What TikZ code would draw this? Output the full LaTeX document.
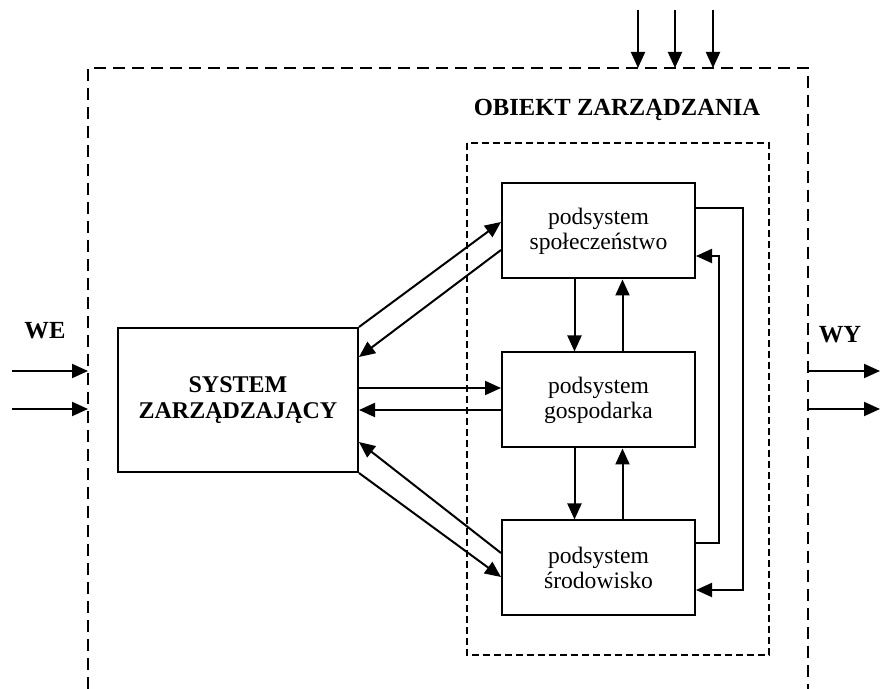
\documentclass[tikz,border=0pt]{standalone}
\usepackage{fontspec}
\setmainfont{Liberation Serif}
\usetikzlibrary{arrows.meta}

\tikzset{
    box/.style={draw, line width=1pt, align=center, inner sep=0pt},
    subbox/.style={box, minimum width=96.5pt, minimum height=47.5pt,
        font=\fontsize{11.8}{12.5}\selectfont},
    mainbox/.style={box, minimum width=120pt, minimum height=72pt,
        font=\fontsize{12}{13}\selectfont\bfseries},
    arr/.style={line width=1pt, -{Triangle[length=8pt, width=7pt]}},
    outerframe/.style={line width=1pt, dash pattern=on 6pt off 3.5pt},
    innerframe/.style={line width=0.8pt, dash pattern=on 3.5pt off 2pt},
    lbl/.style={font=\fontsize{12.3}{13}\selectfont\bfseries}
}

\begin{document}
\begin{tikzpicture}[x=0.5pt, y=-0.5pt]
    \useasboundingbox (0, 0) rectangle (880, 689);

    % frames
    \coordinate (ftl) at (88, 68);
    \coordinate (ftr) at (808, 68);
    \draw[outerframe] (88, 689) -- (ftl) -- (ftr) -- (808, 689);
    \draw[innerframe] (467, 143) rectangle (769, 655);
    \node[lbl] (obiekt) at (617, 110) {OBIEKT ZARZĄDZANIA};

    % blocks
    \node[mainbox] (sys) at (238, 400) {SYSTEM\\ZARZĄDZAJĄCY};
    \node[subbox] (spol) at (598.5, 231) {podsystem\\społeczeństwo};
    \node[subbox] (gosp) at (598.5, 400) {podsystem\\gospodarka};
    \node[subbox] (srod) at (598.5, 568) {podsystem\\środowisko};

    % system <-> subsystems
    \draw[arr] (sys.north east) -- ([yshift=4.5pt]spol.west);
    \draw[arr] ([yshift=-9.5pt]spol.west) -- ([yshift=21.5pt]sys.east);
    \draw[arr] ([yshift=6pt]sys.east) -- ([yshift=6pt]gosp.west);
    \draw[arr] ([yshift=-5pt]gosp.west) -- ([yshift=-5pt]sys.east);
    \draw[arr] ([yshift=7.5pt]srod.west) -- ([yshift=-21pt]sys.east);
    \draw[arr] (sys.south east) -- ([yshift=-4.5pt]srod.west);

    % between subsystems
    \draw[arr] ([xshift=-12pt]spol.south) -- ([xshift=-12pt]gosp.north);
    \draw[arr] ([xshift=12pt]gosp.north) -- ([xshift=12pt]spol.south);
    \draw[arr] ([xshift=-12pt]gosp.south) -- ([xshift=-12pt]srod.north);
    \draw[arr] ([xshift=12pt]srod.north) -- ([xshift=12pt]gosp.south);

    % feedback loops
    \draw[arr] ([yshift=11.5pt]spol.east) -- ++(23.5pt, 0) |- ([yshift=-11pt]srod.east);
    \draw[arr] ([yshift=12.5pt]srod.east) -- ++(11.5pt, 0) |- ([yshift=-12.5pt]spol.east);

    % disturbances
    \foreach \x [count=\i] in {638, 675, 713} {
        \coordinate (z\i) at (\x, 10);
        \draw[arr] (z\i) -- (z\i |- ftl);
    }

    % inputs and outputs
    \node[lbl] (we) at (45, 331) {WE};
    \node[lbl] (wy) at (840, 335) {WY};
    \foreach \y [count=\i] in {371, 409} {
        \coordinate (we\i) at (12, \y);
        \draw[arr] (we\i) -- (we\i -| ftl);
        \coordinate (wy\i) at (880, \y);
        \draw[arr] (wy\i -| ftr) -- (wy\i);
    }
\end{tikzpicture}
\end{document}
